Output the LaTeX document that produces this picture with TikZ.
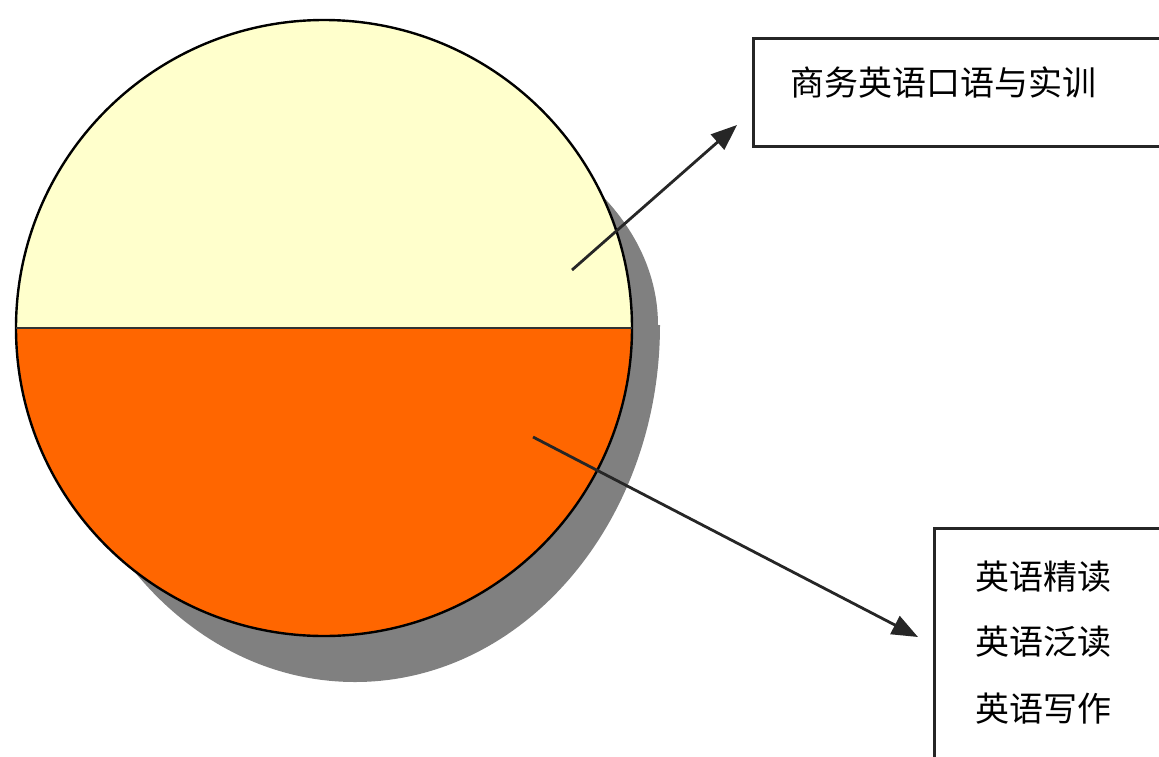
\documentclass[tikz,border=0pt]{standalone}
\usepackage{fontspec}
\newfontfamily\cjk{Noto Sans CJK SC}
\usetikzlibrary{arrows.meta}
\definecolor{pieyellow}{HTML}{FFFFCC}
\definecolor{pieorange}{HTML}{FF6600}
\definecolor{shadowgray}{HTML}{808080}
\tikzset{
  outline/.style={draw=black, line width=2.4pt},
  labelbox/.style={draw=black!85, line width=3pt, inner sep=0pt, anchor=north west},
  labeltext/.style={anchor=west, inner sep=0pt, font=\cjk\fontsize{34}{40}\selectfont},
  pointer/.style={draw=black!85, line width=2.8pt, -{Triangle[length=26pt,width=20pt]}},
}
\begin{document}
\begin{tikzpicture}[x=1pt,y=-1pt]
\useasboundingbox (0,0) rectangle (1159,756);
\clip (0,0) rectangle (1159,756);
\fill[white] (0,0) rectangle (1159,756);
% shadow
\begin{scope}
  \clip (0,0) rectangle (1159,325);
  \fill[shadowgray] (350,325) ellipse [x radius=308, y radius=225];
\end{scope}
\begin{scope}
  \clip (0,325) rectangle (1159,756);
  \fill[shadowgray] (355,325) ellipse [x radius=305, y radius=357];
\end{scope}
% pie halves
\coordinate (c) at (324,328);
\begin{scope}
  \clip (0,0) rectangle (1159,328);
  \fill[pieyellow] (c) circle [radius=308];
\end{scope}
\begin{scope}
  \clip (0,328) rectangle (1159,756);
  \fill[pieorange] (c) circle [radius=308];
\end{scope}
\draw[outline] (c) circle [radius=308];
\coordinate (dl) at (16,328);
\coordinate (dr) at (632,328);
\draw[outline, draw=black!80] (dl) -- (dr);
% boxes
\node[labelbox, minimum width=430pt, minimum height=108pt] (box1) at (752,37) {};
\node[labeltext] (txt1) at (790,82) {商务英语口语与实训};
\node[labelbox, minimum width=260pt, minimum height=260pt] (box2) at (933,527) {};
\node[labeltext] (txt2) at (975,577) {英语精读};
\node[labeltext] (txt3) at (975,642) {英语泛读};
\node[labeltext] (txt4) at (975,709) {英语写作};
% pointers
\coordinate (p1) at (572,270);
\coordinate (t1) at (737,125);
\coordinate (p2) at (533,437);
\coordinate (t2) at (918,637);
\draw[pointer] (p1) -- (t1);
\draw[pointer] (p2) -- (t2);
\end{tikzpicture}
\end{document}
